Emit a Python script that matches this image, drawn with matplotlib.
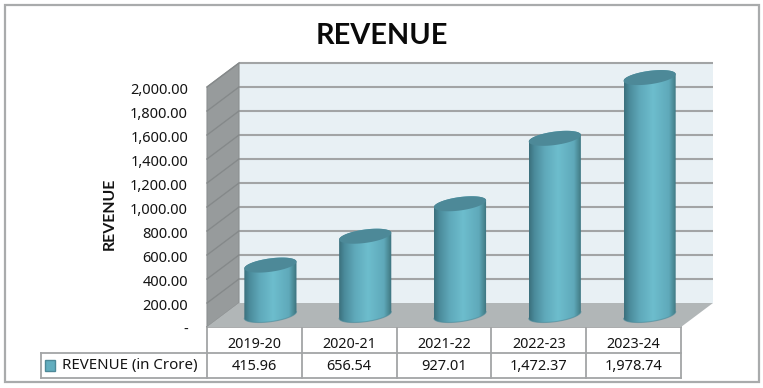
import numpy as np
import matplotlib
matplotlib.use("Agg")
import matplotlib.pyplot as plt
from matplotlib.colors import LinearSegmentedColormap
from matplotlib.patches import Polygon, Rectangle

plt.rcParams["font.family"] = ["Noto Sans", "DejaVu Sans"]

years = ["2019-20", "2020-21", "2021-22", "2022-23", "2023-24"]
revenue = [415.96, 656.54, 927.01, 1472.37, 1978.74]
revenue_labels = ["415.96", "656.54", "927.01", "1,472.37", "1,978.74"]
y_ticks = [0, 200, 400, 600, 800, 1000, 1200, 1400, 1600, 1800, 2000]
y_labels = ["-", "200.00", "400.00", "600.00", "800.00", "1,000.00",
            "1,200.00", "1,400.00", "1,600.00", "1,800.00", "2,000.00"]
series_name = "REVENUE (in Crore)"
title = "REVENUE"

W, H = 763, 388
TEXT = "#141414"
LINE = "#a3a5a6"

# depth of the fake 3D box, in data units (32px across, 24px up)
DX = 32 / (474 / 5)
DY = 200
BAR_W = 0.275   # half width of a cylinder
ELL_B = 56      # half height of the end ellipses
ELL_TILT = 28   # ellipses lean up to the right

fig = plt.figure(figsize=(W / 100, H / 100), dpi=100)

# pixel overlay for frame, table and text
bg = fig.add_axes([0, 0, 1, 1])
bg.set_xlim(0, W)
bg.set_ylim(H, 0)
bg.axis("off")
bg.add_patch(Rectangle((5, 5), 754, 377, fc="white", ec="#a9abac", lw=1.6))

# chart axes: x is category slot, y is the value
ax = fig.add_axes([207 / W, 1 - 327 / H, 474 / W, 240 / H])
ax.set_xlim(0, 5)
ax.set_ylim(0, 2000)
ax.axis("off")
ax.patch.set_alpha(0)


def box_poly(pts, **kw):
    ax.add_patch(Polygon(pts, closed=True, clip_on=False, **kw))


top = y_ticks[-1]
# back wall, left wall, floor
box_poly([(DX, DY), (5 + DX, DY), (5 + DX, top + DY), (DX, top + DY)], fc="#e8f0f4", ec="none", zorder=1)
box_poly([(0, 0), (DX, DY), (DX, top + DY), (0, top)], fc="#979b9c", ec="#8b8f90", lw=0.8, zorder=2)
box_poly([(0, 0), (5, 0), (5 + DX, DY), (DX, DY)], fc="#b1b6b7", ec="none", zorder=2)

for t in y_ticks[1:]:
    ax.plot([DX, 5 + DX], [t + DY, t + DY], color="#a2a4a5", lw=1.5, clip_on=False, zorder=2, solid_capstyle="butt")
    ax.plot([0, DX], [t, t + DY], color="#85898a", lw=1.0, clip_on=False, zorder=3)

# cylinders
body_cmap = LinearSegmentedColormap.from_list(
    "cyl", [(0, "#3b6f7c"), (0.1, "#4a8a9a"), (0.3, "#5fa9ba"), (0.55, "#6dbdcd"),
            (0.85, "#5fa9ba"), (0.95, "#48858f"), (1, "#3b6f7c")])
gradient = np.linspace(0, 1, 256).reshape(1, -1)
t_all = np.linspace(0, 2 * np.pi, 120)
t_low = np.linspace(np.pi, 2 * np.pi, 60)
t_up = np.linspace(0, np.pi, 60)

for i, v in enumerate(revenue):
    cx = i + 0.5 + DX / 2
    base = DY / 2
    head = v + DY / 2
    low_x = cx + BAR_W * np.cos(t_low)
    low_y = base + ELL_B * np.sin(t_low) + ELL_TILT * np.cos(t_low)
    up_x = cx + BAR_W * np.cos(t_up)
    up_y = head + ELL_B * np.sin(t_up) + ELL_TILT * np.cos(t_up)
    body = Polygon(np.column_stack([np.r_[low_x, up_x], np.r_[low_y, up_y]]),
                   closed=True, fc="none", ec="none", transform=ax.transData)
    ax.add_patch(body)
    im = ax.imshow(gradient, cmap=body_cmap, aspect="auto", zorder=4, interpolation="bilinear",
                   extent=[cx - BAR_W, cx + BAR_W, base - 100, head + 100])
    im.set_clip_box(fig.bbox)
    im.set_clip_path(body)
    ax.plot(low_x, low_y, color="#4a8a9a", lw=0.8, alpha=0.6, zorder=5, clip_on=False)
    cap_x = cx + BAR_W * np.cos(t_all)
    cap_y = head + ELL_B * np.sin(t_all) + ELL_TILT * np.cos(t_all)
    box_poly(np.column_stack([cap_x, cap_y]), fc="#4d8998", ec="none", zorder=6)

ax.set_xlim(0, 5)
ax.set_ylim(0, 2000)

# tick labels sit left of the box
for t, lab in zip(y_ticks, y_labels):
    ax.annotate(lab, (0, t), xytext=(-19, -3), textcoords="offset pixels", ha="right", va="center",
                fontsize=10.5, color=TEXT, annotation_clip=False)

# data table below the box
cols = np.linspace(207, 681, len(years) + 1)
rows = [327, 352.5, 378]
bg.plot([207, 681], [rows[0], rows[0]], color=LINE, lw=1.3)
bg.plot([41, 681], [rows[1], rows[1]], color=LINE, lw=1.3)
bg.plot([41, 681], [rows[2], rows[2]], color=LINE, lw=1.3)
bg.plot([41, 41], [rows[1], rows[2]], color=LINE, lw=1.3)
for c in cols:
    bg.plot([c, c], [rows[0], rows[2]], color=LINE, lw=1.3)
for i in range(len(years)):
    mid = (cols[i] + cols[i + 1]) / 2
    bg.text(mid, 344, years[i], ha="center", va="center", fontsize=10.3, color=TEXT)
    bg.text(mid, 366, revenue_labels[i], ha="center", va="center", fontsize=10.5, color=TEXT)

bg.add_patch(Rectangle((45, 360), 10, 10.5, fc="#62aebf", ec="#4d8998", lw=1))
bg.text(62, 365, series_name, ha="left", va="center", fontsize=10.8, color=TEXT)

bg.text(382, 36, title, ha="center", va="center", fontsize=20.8, fontweight="bold", family="Lato", color="#0a0a0a")
bg.text(110, 214, title, ha="center", va="center", rotation=90, fontsize=11.4, fontweight="bold", family="Lato", color=TEXT)

fig.savefig("out.png", dpi=100)
